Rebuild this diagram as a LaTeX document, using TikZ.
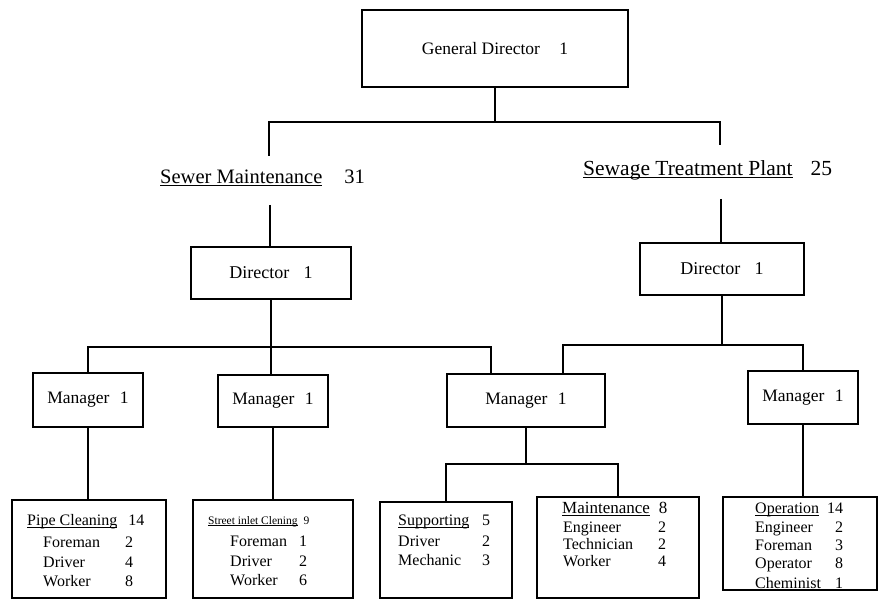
\documentclass[tikz,border=0pt]{standalone}
\usepackage{fontspec}
\setmainfont{Liberation Serif}
\newsavebox\myulbox
\newcommand\myul[1]{\sbox\myulbox{#1}\rlap{\rule[-0.13em]{\wd\myulbox}{0.06em}}\usebox\myulbox}
\begin{document}
\begin{tikzpicture}[x=1pt,y=-1pt,
  box/.style={draw, line width=1.8pt, inner sep=0pt, fill=white},
  conn/.style={line width=1.8pt},
  lbl/.style={inner sep=0pt, anchor=west, text height=0.72em, text depth=0.22em},
  bigf/.style={font=\fontsize{17.5}{20}\selectfont},
  headf/.style={font=\fontsize{20.5}{23}\selectfont},
  rowf/.style={font=\fontsize{16}{18}\selectfont},
  smallf/.style={font=\fontsize{11.5}{13}\selectfont}
]
\useasboundingbox (0,0) rectangle (879,601);

% top
\node[box, bigf, minimum width=266pt, minimum height=77pt] (gd) at (495,48.5) {General Director\hspace{1.1em}1};

\node[lbl, headf] (sm) at (160,181) {\myul{Sewer Maintenance}\hspace{22pt}31};
\node[lbl, font=\fontsize{21.5}{24}\selectfont] (stp) at (583,173) {\myul{Sewage Treatment Plant}\hspace{18pt}25};
\coordinate (smtop) at (269,156);
\coordinate (smbot) at (270,205);
\coordinate (sttop) at (720,145);
\coordinate (stbot) at (721,199);

\node[box, font=\fontsize{18}{20}\selectfont, minimum width=160pt, minimum height=52pt] (d1) at (271,273) {Director\hspace{0.8em}1};
\node[box, font=\fontsize{18}{20}\selectfont, minimum width=164pt, minimum height=52pt] (d2) at (722,269) {Director\hspace{0.8em}1};

\draw[conn] (gd.south) -- ++(0,34) -| (smtop);
\draw[conn] (gd.south) -- ++(0,34) -| (sttop);
\draw[conn] (smbot) -- (smbot |- d1.north);
\draw[conn] (stbot) -- (stbot |- d2.north);

% managers
\node[box, bigf, minimum width=110pt, minimum height=54pt] (m1) at (88,400) {Manager\hspace{0.6em}1};
\node[box, bigf, minimum width=110pt, minimum height=52pt] (m2) at (273,401) {Manager\hspace{0.6em}1};
\node[box, bigf, minimum width=158pt, minimum height=53pt] (m3) at (526,400.5) {Manager\hspace{0.6em}1};
\node[box, bigf, minimum width=110pt, minimum height=53pt] (m4) at (803,397.5) {Manager\hspace{0.6em}1};

\coordinate (bus1) at (271,347);
\coordinate (bus2) at (722,345);
\draw[conn] (d1.south) -- (d1.south |- m2.north);
\draw[conn] (m1.north) |- (bus1) -| ([xshift=-35pt]m3.north);
\draw[conn] (d2.south) -- (bus2);
\draw[conn] ([xshift=37pt]m3.north) |- (bus2) -| (m4.north);

% bottom boxes
\node[box, minimum width=154pt, minimum height=98pt] (b1) at (89,549) {};
\node[box, minimum width=160pt, minimum height=98pt] (b2) at (273,549) {};
\node[box, minimum width=132pt, minimum height=96pt] (b3) at (446,550) {};
\node[box, minimum width=162pt, minimum height=101pt] (b4) at (618,547.5) {};
\node[box, minimum width=154pt, minimum height=93pt] (b5) at (800,543.5) {};

\coordinate (bus3) at (526,464);
\draw[conn] (m1.south) -- (m1.south |- b1.north);
\draw[conn] (m2.south) -- (m2.south |- b2.north);
\draw[conn] (m3.south) -- (bus3);
\draw[conn] (b3.north) |- (bus3) -| (b4.north);
\draw[conn] (m4.south) -- (m4.south |- b5.north);

% box 1
\node[lbl, rowf] (b1h) at (27,523) {\myul{Pipe Cleaning}\hspace{11pt}14};
\node[lbl, rowf] (b1a) at (43,545) {\makebox[90pt][l]{Foreman\hfill 2}};
\node[lbl, rowf] (b1b) at (43,565) {\makebox[90pt][l]{Driver\hfill 4}};
\node[lbl, rowf] (b1c) at (43,584) {\makebox[90pt][l]{Worker\hfill 8}};
% box 2
\node[lbl, smallf] (b2h) at (208,522) {\myul{Street inlet Clening}\hspace{6pt}9};
\node[lbl, rowf] (b2a) at (230,544) {\makebox[77pt][l]{Foreman\hfill 1}};
\node[lbl, rowf] (b2b) at (230,564) {\makebox[77pt][l]{Driver\hfill 2}};
\node[lbl, rowf] (b2c) at (230,583) {\makebox[77pt][l]{Worker\hfill 6}};
% box 3
\node[lbl, rowf] (b3h) at (398,523) {\makebox[92pt][l]{\myul{Supporting}\hfill 5}};
\node[lbl, rowf] (b3a) at (398,544) {\makebox[92pt][l]{Driver\hfill 2}};
\node[lbl, rowf] (b3b) at (398,563) {\makebox[92pt][l]{Mechanic\hfill 3}};
% box 4
\node[lbl, font=\fontsize{17}{20}\selectfont] (b4h) at (562,511) {\myul{Maintenance}\hspace{9pt}8};
\node[lbl, rowf] (b4a) at (563,530) {\makebox[103pt][l]{Engineer\hfill 2}};
\node[lbl, rowf] (b4b) at (563,547) {\makebox[103pt][l]{Technician\hfill 2}};
\node[lbl, rowf] (b4c) at (563,564) {\makebox[103pt][l]{Worker\hfill 4}};
% box 5
\node[lbl, rowf] (b5h) at (755,511) {\myul{Operation}\hspace{8pt}14};
\node[lbl, rowf] (b5a) at (755,530) {\makebox[88pt][l]{Engineer\hfill 2}};
\node[lbl, rowf] (b5b) at (755,548) {\makebox[88pt][l]{Foreman\hfill 3}};
\node[lbl, rowf] (b5c) at (755,566) {\makebox[88pt][l]{Operator\hfill 8}};
\node[lbl, rowf] (b5d) at (755,586) {\makebox[88pt][l]{Cheminist\hfill 1}};
\end{tikzpicture}
\end{document}
